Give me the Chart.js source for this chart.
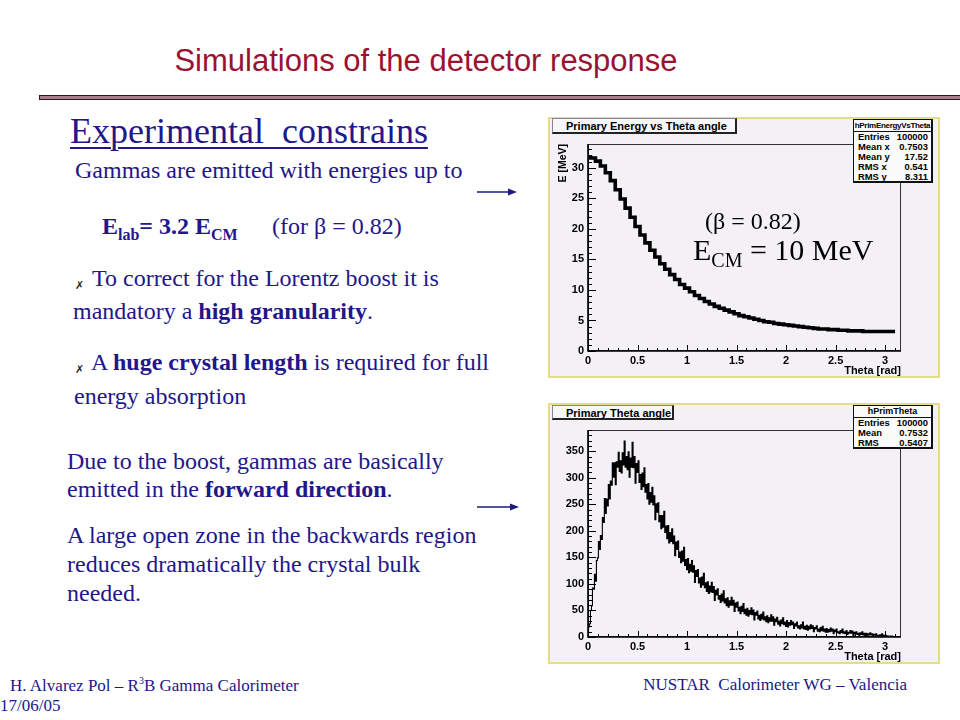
<!DOCTYPE html>
<html lang="en">
<head>
<meta charset="utf-8">
<title>Simulations of the detector response</title>
<script src="https://cdn.jsdelivr.net/npm/chart.js@4.4.1/dist/chart.umd.min.js"></script>
<style>
  html, body { margin: 0; padding: 0; background: #fff; }
  #slide { position: relative; width: 960px; height: 720px; overflow: hidden;
           font-family: "Liberation Serif", "Times New Roman", serif; color: #22168a; }
  .t { position: absolute; line-height: 1; white-space: nowrap; }
  .b { font-weight: bold; }
  .x { position: absolute; font: 11px "DejaVu Sans", sans-serif; color: #222; }
  .panel { position: absolute; left: 548px; width: 392px; height: 261px;
           background: #f3f1f5; box-shadow: inset 0 0 0 2px #e4dc88; }
  .panel canvas { position: absolute; left: 0; top: 0; }
  .ptitle { position: absolute; box-sizing: border-box; padding: 1px 0 0 13px; line-height: 12px;
            font: bold 11px "Liberation Sans", Arial, sans-serif; color: #000; background: #f7f6f8;
            border: 1px solid #888; border-right: 2px solid #222; border-bottom: 2px solid #222; }
  .stats { position: absolute; box-sizing: border-box; background: #fbfbfc; color: #000;
           font: bold 9.4px "Liberation Sans", Arial, sans-serif;
           border: 1px solid #111; border-right: 2px solid #111; border-bottom: 2px solid #111; }
  .stats .hd { text-align: center; border-bottom: 1px solid #111; height: 11px; line-height: 11px;
               font-size: 8px; letter-spacing: -0.3px; }
  .stats .row { display: flex; justify-content: space-between; padding: 0 3px 0 4px;
                height: 10px; line-height: 10px; }
  .note { position: absolute; color: #000; line-height: 1; white-space: nowrap; }
</style>
</head>
<body>
<div id="slide">

  <div class="t" style="left:0;width:852px;text-align:center;top:43px;font:31px 'Liberation Sans',Arial,sans-serif;color:#9b1231">Simulations of the detector response</div>
  <div style="position:absolute;left:39px;top:95px;width:925px;height:3px;background:#a77c8b;border:1px solid #2b1320"></div>

  <div class="t" style="left:70px;top:113px;font-size:36px;text-decoration:underline;text-decoration-thickness:2px;text-underline-offset:4px">Experimental&nbsp; constrains</div>
  <div class="t" style="left:75px;top:158px;font-size:24px">Gammas are emitted with energies up to</div>
  <div class="t b" style="left:102px;top:214px;font-size:24px">E<sub style="font-size:16px">lab</sub>= 3.2 E<sub style="font-size:16px">CM</sub></div>
  <div class="t" style="left:272px;top:214px;font-size:24px">(for β = 0.82)</div>

  <div class="x" style="left:75px;top:279px">✗</div>
  <div class="t" style="left:92px;top:266px;font-size:24px">To correct for the Lorentz boost it is</div>
  <div class="t" style="left:73px;top:299px;font-size:24px">mandatory a <b>high granularity</b>.</div>
  <div class="x" style="left:75px;top:363px">✗</div>
  <div class="t" style="left:91px;top:350px;font-size:24px">A <b>huge crystal length</b> is required for full</div>
  <div class="t" style="left:74px;top:384px;font-size:24px">energy absorption</div>

  <div class="t" style="left:67px;top:449px;font-size:24px">Due to the boost, gammas are basically</div>
  <div class="t" style="left:67px;top:477px;font-size:24px">emitted in the <b>forward direction</b>.</div>
  <div class="t" style="left:67px;top:523px;font-size:24px">A large open zone in the backwards region</div>
  <div class="t" style="left:67px;top:552px;font-size:24px">reduces dramatically the crystal bulk</div>
  <div class="t" style="left:67px;top:581px;font-size:24px">needed.</div>

  <svg style="position:absolute;left:476px;top:186px" width="44" height="12"><line x1="1" y1="6" x2="34" y2="6" stroke="#1a1a80" stroke-width="1.5"/><path d="M32 2.5 L41 6 L32 9.5 Z" fill="#1a1a80"/></svg>
  <svg style="position:absolute;left:476px;top:501px" width="46" height="12"><line x1="1" y1="6" x2="36" y2="6" stroke="#1a1a80" stroke-width="1.5"/><path d="M34 2.5 L43 6 L34 9.5 Z" fill="#1a1a80"/></svg>

  <div class="t" style="left:10px;top:676px;font-size:17px">H. Alvarez Pol – R<sup style="font-size:10px">3</sup>B Gamma Calorimeter</div>
  <div class="t" style="left:0;top:697px;font-size:17px">17/06/05</div>
  <div class="t" style="left:540px;width:367px;text-align:right;top:676px;font-size:17px">NUSTAR&nbsp; Calorimeter WG – Valencia</div>

  <!-- panel 1 : E vs theta -->
  <div class="panel" style="top:117px">
    <canvas id="grafEnergia" width="392" height="261"></canvas>
    <div class="ptitle" style="left:4px;top:1px;width:185px;height:16px">Primary Energy vs Theta angle</div>
    <div class="stats" style="left:305px;top:2px;width:80px;height:64px">
      <div class="hd">hPrimEnergyVsTheta</div>
      <div class="row"><span>Entries</span><span>100000</span></div>
      <div class="row"><span>Mean x</span><span>0.7503</span></div>
      <div class="row"><span>Mean y</span><span>17.52</span></div>
      <div class="row"><span>RMS x</span><span>0.541</span></div>
      <div class="row"><span>RMS y</span><span>8.311</span></div>
    </div>
    <div class="note" style="left:157px;top:92px;font-size:24px">(β = 0.82)</div>
    <div class="note" style="left:145px;top:118px;font-size:30px">E<sub style="font-size:20px">CM</sub> = 10 MeV</div>
  </div>

  <!-- panel 2 : theta distribution -->
  <div class="panel" style="top:403px">
    <canvas id="grafTheta" width="392" height="261"></canvas>
    <div class="ptitle" style="left:4px;top:2px;width:122px;height:15px">Primary Theta angle</div>
    <div class="stats" style="left:305px;top:2px;width:80px;height:44px">
      <div class="hd" style="font-size:9px;letter-spacing:0">hPrimTheta</div>
      <div class="row"><span>Entries</span><span>100000</span></div>
      <div class="row"><span>Mean</span><span>0.7532</span></div>
      <div class="row"><span>RMS</span><span>0.5407</span></div>
    </div>
  </div>
</div>

<script>
"use strict";

// =============================================================
// DATA
// =============================================================
const thetaTicks = [0, 0.5, 1, 1.5, 2, 2.5, 3];
const energyTicks = [0, 5, 10, 15, 20, 25, 30];
const countTicks = [0, 50, 100, 150, 200, 250, 300, 350];

// E [MeV] per theta bin, 0.05 rad bins starting at 0
const energyBinWidth = 0.05;
const energyMeV = [
  31.8, 31.6, 31.1, 30.3, 29.2, 27.9, 26.4, 24.9, 23.4, 21.9,
  20.4, 19.0, 17.7, 16.5, 15.4, 14.3, 13.4, 12.5, 11.7, 10.9,
  10.3, 9.7, 9.1, 8.6, 8.1, 7.7, 7.3, 7.0, 6.7, 6.4,
  6.1, 5.8, 5.6, 5.4, 5.2, 5.0, 4.8, 4.7, 4.5, 4.4,
  4.3, 4.2, 4.1, 4.0, 3.9, 3.8, 3.7, 3.6, 3.6, 3.5,
  3.5, 3.4, 3.4, 3.3, 3.3, 3.3, 3.2, 3.2, 3.2, 3.2,
  3.2, 3.2, 3.2
];

// entries per theta bin, 0.01 rad bins starting at 0
const countBinWidth = 0.01;
const thetaCounts = [
  3, 19, 25, 50, 59, 92, 90, 118, 105, 144,
  149, 180, 165, 191, 184, 225, 216, 261, 233, 260,
  247, 287, 260, 294, 286, 328, 301, 328, 287, 330,
  320, 348, 312, 332, 309, 347, 324, 369, 320, 340,
  315, 349, 301, 337, 320, 367, 319, 340, 290, 327,
  310, 332, 291, 306, 278, 309, 283, 319, 273, 287,
  260, 289, 250, 272, 254, 282, 249, 266, 221, 251,
  235, 253, 217, 229, 204, 229, 207, 237, 197, 209,
  185, 210, 177, 197, 180, 204, 176, 190, 153, 179,
  165, 181, 150, 160, 140, 162, 143, 169, 135, 146,
  127, 148, 121, 137, 124, 144, 122, 134, 103, 125,
  114, 127, 102, 111, 94, 113, 98, 120, 93, 102,
  86, 104, 82, 96, 85, 103, 84, 95, 69, 88,
  79, 91, 71, 78, 65, 81, 68, 87, 64, 72,
  59, 74, 56, 68, 60, 75, 60, 69, 48, 64,
  56, 66, 49, 56, 44, 58, 48, 63, 44, 52,
  41, 54, 39, 50, 43, 55, 42, 51, 32, 46,
  41, 49, 34, 41, 31, 43, 34, 47, 32, 38,
  29, 40, 27, 36, 30, 42, 30, 38, 22, 34,
  29, 37, 24, 30, 21, 32, 25, 36, 23, 28,
  20, 31, 19, 27, 22, 31, 23, 28, 16, 25,
  21, 28, 17, 21, 15, 23, 17, 28, 15, 20,
  14, 22, 13, 20, 15, 23, 16, 21, 10, 18,
  15, 21, 11, 15, 10, 18, 12, 20, 11, 15,
  9, 16, 9, 14, 10, 17, 11, 15, 6, 13,
  10, 15, 8, 10, 6, 12, 8, 15, 7, 10,
  6, 12, 5, 9, 7, 12, 7, 11, 3, 9,
  6, 10, 5, 7, 3, 8, 5, 10, 4, 7,
  3, 7, 2, 6, 4, 8, 4, 6, 1, 5,
  4, 6, 2, 3, 1, 4, 2, 6, 1, 3,
  1, 3, 1, 2, 1, 2, 1, 2, 0, 1,
  1, 0, 1, 0
];

document.addEventListener("DOMContentLoaded", () => {

  Chart.defaults.font.family = '"Liberation Sans", Arial, sans-serif';
  Chart.defaults.color = "#000";

  // =============================================================
  // ROOT-style frame: box + inward major/minor ticks
  // =============================================================
  const rootFrame = {
    id: "rootFrame",
    afterDatasetsDraw(chart) {
      const { ctx, chartArea: a, scales: { x, y } } = chart;
      ctx.save();
      ctx.strokeStyle = "#333";
      ctx.lineWidth = 1;
      ctx.strokeRect(a.left + 0.5, a.top + 0.5, a.width - 1, a.height - 1);

      ctx.strokeStyle = "#000";
      ctx.beginPath();
      const marcas = (scale, horizontal, largo) => {
        const vals = scale.ticks.map(t => t.value);
        const paso = (vals[1] - vals[0]) / 5;
        for (let k = 0; vals[0] + k * paso <= scale.max + 1e-9; k++) {
          const p = Math.round(scale.getPixelForValue(vals[0] + k * paso)) + 0.5;
          const l = k % 5 === 0 ? largo : largo / 2;
          if (horizontal) { ctx.moveTo(p, a.bottom); ctx.lineTo(p, a.bottom - l); }
          else { ctx.moveTo(a.left, p); ctx.lineTo(a.left + l, p); }
        }
      };
      marcas(x, true, 6);
      marcas(y, false, 8);
      ctx.stroke();

      ctx.lineWidth = 1.6;
      ctx.beginPath();
      ctx.moveTo(a.left, a.top);
      ctx.lineTo(a.left, a.bottom);
      ctx.lineTo(a.right, a.bottom);
      ctx.stroke();
      ctx.restore();
    }
  };

  function escalas(yMax, yTicks, yTitle) {
    const tickFont = { size: 11, weight: "bold" };
    return {
      x: {
        type: "linear", min: 0, max: 3.16,
        afterBuildTicks: s => { s.ticks = thetaTicks.map(v => ({ value: v })); },
        afterFit: s => { s.height = 27; },
        grid: { display: false, drawTicks: false },
        border: { display: false },
        ticks: { autoSkip: false, maxRotation: 0, padding: 3, font: tickFont, callback: v => String(v) },
        title: { display: true, text: "Theta [rad]", align: "end", padding: { top: 0, bottom: 0 },
                 font: { size: 11, weight: "bold" } }
      },
      y: {
        type: "linear", min: 0, max: yMax,
        afterBuildTicks: s => { s.ticks = yTicks.map(v => ({ value: v })); },
        afterFit: s => { s.width = 40; },
        grid: { display: false, drawTicks: false },
        border: { display: false },
        ticks: { autoSkip: false, padding: 4, font: tickFont, callback: v => String(v) },
        title: { display: !!yTitle, text: yTitle || "", align: "end", padding: { top: 9, bottom: 0 },
                 font: { size: 10.5, weight: "bold" } }
      }
    };
  }

  const base = {
    responsive: false,
    animation: false,
    events: [],
    layout: { padding: { left: 0, right: 39, top: 27, bottom: 0 } },
    plugins: { legend: { display: false }, tooltip: { enabled: false } }
  };

  // =============================================================
  // Primary Energy vs Theta angle
  // =============================================================
  new Chart(document.getElementById("grafEnergia"), {
    type: "line",
    data: {
      labels: energyMeV.map((_, i) => +(i * energyBinWidth).toFixed(2)),
      datasets: [{
        data: energyMeV,
        borderColor: "#000",
        borderWidth: 3.6,
        pointRadius: 0,
        stepped: "middle",
        fill: false
      }]
    },
    options: { ...base, scales: escalas(33.9, energyTicks, "E [MeV]") },
    plugins: [rootFrame]
  });

  // =============================================================
  // Primary Theta angle
  // =============================================================
  new Chart(document.getElementById("grafTheta"), {
    type: "line",
    data: {
      labels: thetaCounts.map((_, i) => +(i * countBinWidth).toFixed(2)),
      datasets: [{
        data: thetaCounts,
        borderColor: "#000",
        borderWidth: 1.1,
        pointRadius: 0,
        stepped: "middle",
        fill: false
      }]
    },
    options: { ...base, scales: escalas(390, countTicks, null) },
    plugins: [rootFrame]
  });
});
</script>
</body>
</html>
